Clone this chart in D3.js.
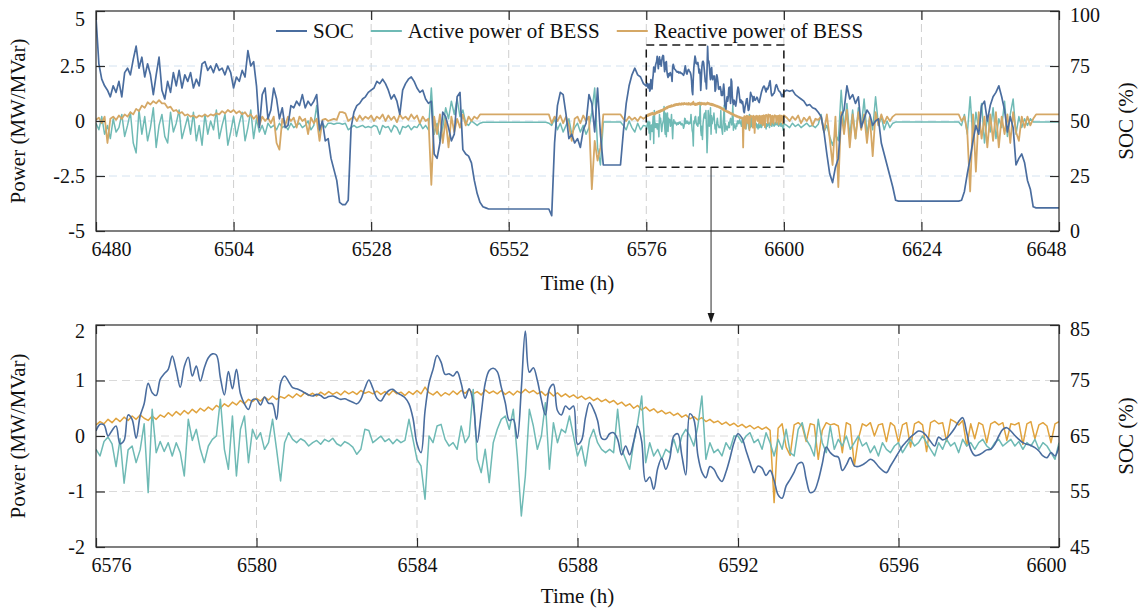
<!DOCTYPE html>
<html>
<head>
<meta charset="utf-8">
<script src="https://cdn.jsdelivr.net/npm/d3@7"></script>
<style>
  body { margin: 0; background: #fff; }
  text { font-family: "Liberation Serif", "Times New Roman", serif; }
</style>
</head>
<body>
<div id="chart"></div>
<script>
//series names, in legend order
var seriesNames = ["SOC", "Active power of BESS", "Reactive power of BESS"];

//tick values
var topTimeTicks = [6480, 6504, 6528, 6552, 6576, 6600, 6624, 6648];
var topPowerTicks = [-5, -2.5, 0, 2.5, 5];
var topSocTicks = [0, 25, 50, 75, 100];
var zoomTimeTicks = [6576, 6580, 6584, 6588, 6592, 6596, 6600];
var zoomPowerTicks = [-2, -1, 0, 1, 2];
var zoomSocTicks = [45, 55, 65, 75, 85];

//window marked on the upper chart (time from, time to, power low, power high)
var zoomWindow = [6576, 6600, -2.1, 3.45];
var arrowTime = 6587.3;

//upper chart, half-hour samples before the zoomed window (6480 - 6575.5)
var coarseStep = 0.5;
var coarseStartA = 6480;
var socA = [
  97, 76, 69, 66, 64, 61, 66, 63, 68, 61, 72, 74,
  71, 78, 84, 74, 79, 70, 76, 71, 62, 71, 79, 64,
  60, 68, 63, 72, 66, 73, 65, 71, 68, 72, 65, 69,
  66, 76, 77, 73, 75, 72, 76, 73, 74, 71, 75, 72,
  65, 70, 68, 73, 70, 82, 75, 77, 66, 47, 62, 65,
  51, 55, 65, 60, 51, 56, 47, 48, 57, 56, 59, 57,
  62, 56, 59, 57, 59, 62, 46, 50, 41, 42, 33, 28,
  23, 13, 12, 12, 14, 47, 54, 57, 58, 60, 61, 63,
  64, 65, 68, 67, 69, 67, 64, 60, 62, 59, 53, 64,
  67, 69, 70, 68, 65, 63, 64, 60, 58, 59, 35, 33,
  40, 54, 52, 47, 41, 44, 61, 63, 37, 35, 34, 31,
  23, 17, 13, 11, 10.5, 10, 10, 10, 10, 10, 10, 10,
  10, 10, 10, 10, 10, 10, 10, 10, 10, 10, 10, 10,
  10, 10, 10, 7, 40, 57, 63, 62, 53, 42, 44, 40,
  42, 38, 46, 49, 62, 58, 45, 65, 44, 30, 30, 30,
  30, 30, 30, 30, 45, 58, 66, 71, 74, 71, 70, 67
];
var activeA = [
  -0.1, -0.4, 0.2, -0.6, -0.2, -0.8, 0.1, -0.5, -0.3, 0.3, -0.7, -0.2,
  0.4, -1.0, -1.45, 0.5, -0.6, 0.2, -0.9, -0.3, 0.6, -1.2, -0.2, 0.3,
  -0.7, -1.0, 0.4, -0.5, -0.1, 0.5, -0.8, -0.3, 0.2, -0.6, 0.4, -0.9,
  -0.2, -1.1, 0.3, -0.6, 0.0, -0.4, 0.5, -0.8, -0.2, 0.3, -1.1, -0.5,
  0.2, -0.7, -0.1, 0.4, -0.9, -0.3, 0.5, -0.8, 0.1, -0.5, -0.2, -0.6,
  -0.1, -0.3, -0.2, -0.4, -0.1, -0.3, -0.2, -0.4, -0.1, -0.3, -0.2, -0.1,
  -0.3, -0.2, 0.0, -0.4, -0.2, 0.7, -0.5, -0.1, -0.3, -0.1, -0.1, -0.15,
  -0.1, -0.1, -0.15, -0.1, -0.4, -0.3, -0.2, -0.3, -0.25, -0.2, -0.3, -0.25,
  -0.3, -0.2, -0.25, -0.6, -0.2, -0.3, -0.25, -0.5, -0.2, -0.3, -0.6, -0.25,
  -0.3, -0.2, -0.4, -0.25, -0.3, -0.1, -0.35, -0.2, -0.4, 1.5, -0.6, -0.1,
  -0.9, -0.3, 0.6, 0.1, 0.9, 0.3, 1.0, 0.2, 0.5, -0.1, -0.2, 0.0,
  -0.1, -0.2, -0.1, -0.06, -0.06, -0.06, -0.06, -0.06, -0.06, -0.06, -0.06, -0.06,
  -0.06, -0.06, -0.06, -0.06, -0.06, -0.06, -0.06, -0.06, -0.06, -0.06, -0.06, -0.06,
  -0.06, -0.06, -0.1, -0.2, 0.1, -0.4, -0.1, -0.5, -0.2, 0.1, -0.6, -0.3,
  -0.1, -0.5, -0.2, -0.6, -0.3, 0.4, 1.5, -1.2, -2.0, -0.05, -0.05, -0.05,
  -0.05, -0.05, -0.05, -0.05, -0.2, -0.4, 0.0, -0.3, -0.5, -0.1, -0.4, -0.2
];
var reactiveA = [
  0.05, 0.15, -0.1, 0.2, -1.0, 0.1, 0.2, 0.05, 0.25, 0.1, 0.3, 0.2,
  0.4, 0.3, 0.55, 0.45, 0.7, 0.6, 0.85, 0.75, 0.9, 0.8, 0.95, 0.8,
  0.8, 0.6, 0.65, 0.45, 0.5, 0.35, 0.4, 0.25, 0.3, 0.2, 0.25, 0.15,
  0.25, 0.2, 0.3, 0.2, 0.3, 0.25, 0.35, 0.3, 0.45, 0.35, 0.5, 0.4,
  0.5, 0.35, 0.45, 0.3, 0.4, 0.2, 0.3, 0.1, 0.25, -0.2, 0.2, 0.0,
  0.15, -0.1, 0.2, -1.0, -1.3, 0.1, -0.2, 0.2, 0.0, 0.15, -0.3, 0.2,
  0.0, 0.1, -0.6, 0.15, -0.1, 0.1, -0.9, 0.05, 0.1, 0.0, 0.05, 0.1,
  0.05, 0.4, 0.4, 0.35, 0.0, 0.1, 0.2, 0.0, 0.25, 0.05, 0.2, 0.1,
  0.25, 0.0, 0.2, 0.1, 0.3, 0.0, 0.25, 0.05, 0.2, -0.05, 0.3, 0.1,
  0.2, 0.05, 0.3, 0.1, 0.25, -0.1, 0.2, 0.0, 0.1, -2.9, 0.2, -0.6,
  0.3, -1.0, 0.1, -1.2, 0.2, -0.5, 0.1, -0.3, 0.3, -0.2, 0.2, 0.0,
  0.2, 0.1, 0.3, 0.3, 0.3, 0.3, 0.3, 0.3, 0.3, 0.3, 0.3, 0.3,
  0.3, 0.3, 0.3, 0.3, 0.3, 0.3, 0.3, 0.3, 0.3, 0.3, 0.3, 0.3,
  0.3, 0.3, 0.3, -0.1, 0.2, 0.0, 0.25, -0.1, 0.2, -0.2, -0.9, 0.1,
  0.2, -0.1, 0.25, 0.0, 0.2, -3.1, -0.9, -1.8, -1.2, 0.3, 0.3, 0.3,
  0.3, 0.3, 0.3, 0.3, 0.1, 0.0, 0.2, 0.05, 0.15, 0.0, 0.2, 0.1
];

//upper chart, half-hour samples after the zoomed window (6600.5 - 6648)
var coarseStartB = 6600.5;
var socB = [
  64, 63.5, 64, 62, 61, 60, 59, 57, 57.5, 56, 55.5, 54,
  52, 45, 35, 26, 22, 29, 33, 52, 55, 66, 60, 62,
  58, 61, 47, 51, 55, 53, 48, 50, 51, 40, 35, 30,
  25, 20, 14, 13.6, 13.6, 13.6, 13.6, 13.6, 13.6, 13.6, 13.6, 13.6,
  13.6, 13.6, 13.6, 13.6, 13.6, 13.6, 13.6, 13.6, 13.6, 13.6, 13.6, 13.6,
  13.6, 14, 18, 26, 33, 41, 48, 44, 57, 59, 50, 57,
  61, 63, 66, 61, 55, 45, 52, 47, 30, 33, 35, 31,
  23, 19, 11, 10.5, 10.5, 10.5, 10.5, 10.5, 10.5, 10.5, 10.5, 10.5
];
var activeB = [
  -0.2, -0.3, -0.1, -0.25, -0.15, -0.3, -0.2, -0.1, -0.25, -0.2, -0.3, -0.15,
  0.3, -0.5, -0.2, -0.7, -1.1, -0.6, -0.9, 1.4, -0.4, 0.8, -0.7, 0.5,
  -0.8, 0.6, -0.3, 1.0, -0.6, 0.2, -0.4, 1.1, -0.2, 0.2, -0.4, 0.0,
  -0.3, -0.1, -0.05, -0.05, -0.05, -0.05, -0.05, -0.05, -0.05, -0.05, -0.05, -0.05,
  -0.05, -0.05, -0.05, -0.05, -0.05, -0.05, -0.05, -0.05, -0.05, -0.05, -0.05, -0.05,
  -0.05, -0.2, 0.3, -0.6, 1.1, -0.9, 0.4, -0.4, 0.8, -1.0, 0.2, -0.5,
  0.6, -0.8, 0.1, -0.3, 0.9, -0.7, 0.3, 1.0, -0.6, 0.2, -0.3, 0.1,
  -0.2, 0.1, -0.05, -0.05, -0.05, -0.05, -0.05, -0.05, -0.05, -0.05, -0.05, -0.05
];
var reactiveB = [
  0.15, 0.0, 0.2, 0.05, 0.25, -0.1, 0.15, 0.0, 0.2, -0.2, 0.1, 0.05,
  0.2, -0.5, 0.3, -0.8, -2.0, 0.2, -3.0, 0.4, -0.6, 0.5, -1.2, 0.3,
  -0.8, 0.4, -0.4, 0.3, -1.0, 0.2, -1.6, 0.4, -0.2, 0.3, -0.1, 0.2,
  0.0, 0.2, 0.3, 0.3, 0.3, 0.3, 0.3, 0.3, 0.3, 0.3, 0.3, 0.3,
  0.3, 0.3, 0.3, 0.3, 0.3, 0.3, 0.3, 0.3, 0.3, 0.3, 0.3, 0.3,
  0.3, 0.0, 0.2, -0.5, -3.2, 0.3, -2.3, 0.4, -0.8, 0.2, -1.2, 0.3,
  -0.9, 0.4, -1.2, 0.2, -0.6, 0.3, -1.0, 0.4, -0.5, -0.9, 0.2, -0.3,
  0.2, -0.2, 0.1, 0.3, 0.3, 0.3, 0.3, 0.3, 0.3, 0.3, 0.3, 0.3
];

//zoomed window, 0.1 h samples (6576 - 6600), one row per hour
var zoomStart = 6576;
var zoomStep = 0.1;
var socZoom = [
  65.9, 67.1, 67.0, 65.0, 66.0, 66.8, 63.6, 64.2, 68.8, 68.0,
  64.6, 68.6, 70.8, 74.5, 72.8, 72.3, 75.2, 76.2, 77.0, 79.4,
  76.8, 73.8, 77.5, 79.2, 75.8, 77.6, 74.9, 77.3, 79.1, 79.8,
  79.6, 75.5, 72.4, 76.6, 73.5, 77.0, 72.6, 70.8, 69.8, 71.5,
  71.6, 70.6, 72.0, 70.9, 70.8, 68.0, 74.5, 75.8, 74.8, 73.7,
  73.5, 73.2, 72.8, 72.4, 72.2, 72.5, 72.3, 71.8, 72.1, 72.2,
  71.9, 71.6, 71.7, 71.4, 71.1, 70.8, 71.6, 73.6, 75.1, 73.6,
  71.8, 71.3, 72.4, 73.2, 73.4, 72.8, 72.4, 71.9, 70.8, 68.2,
  63.6, 62.0, 69.5, 74.5, 77.0, 79.5, 78.3, 76.1, 76.2, 75.8,
  76.6, 74.5, 71.8, 73.5, 71.0, 63.9, 69.0, 74.5, 76.8, 77.2,
  76.6, 73.8, 71.0, 67.8, 68.0, 64.6, 73.5, 83.9, 76.5, 77.3,
  75.0, 71.5, 68.8, 73.5, 74.3, 69.6, 68.8, 70.4, 69.8, 70.4,
  63.5, 64.2, 68.4, 71.0, 69.8, 67.8, 64.6, 64.4, 65.4, 65.6,
  64.4, 61.6, 63.2, 61.6, 64.0, 66.8, 64.0, 56.8, 57.6, 55.4,
  59.2, 61.0, 59.0, 61.0, 65.0, 65.4, 61.5, 58.0, 69.0, 68.0,
  61.5, 58.5, 57.5, 59.5, 59.0, 57.6, 56.8, 58.5, 61.0, 63.8,
  65.4, 64.6, 62.4, 60.2, 58.4, 59.6, 59.2, 57.9, 58.8, 57.0,
  54.4, 53.8, 56.0, 57.2, 58.5, 60.0, 60.2, 57.2, 54.8, 55.1,
  57.0, 60.0, 63.0, 62.0, 61.4, 61.2, 58.8, 59.8, 61.1, 59.6,
  59.5, 59.8, 60.3, 60.8, 60.4, 59.5, 58.8, 58.4, 59.6, 60.8,
  62.0, 63.2, 64.0, 64.8, 65.4, 65.9, 65.7, 65.0, 64.0, 63.2,
  64.8, 64.3, 64.6, 65.4, 66.4, 67.6, 68.3, 65.6, 62.6, 61.5,
  61.6, 62.0, 62.5, 62.6, 63.5, 65.0, 66.2, 66.5, 65.9, 65.1,
  64.4, 63.8, 63.5, 63.3, 62.9, 62.3, 61.4, 61.1, 62.0, 61.4,
  63.2
];
var activeZoom = [
  -0.24, -0.36, -0.10, -0.02, -0.14, -0.55, -0.05, -0.85, -0.25, -0.18,
  -0.48, -0.25, 0.22, -1.02, 0.48, -0.30, -0.10, -0.28, -0.12, -0.36,
  -0.12, -0.30, -0.72, 0.30, -0.08, 0.12, -0.24, -0.48, -0.18, -0.06,
  0.00, 0.66, -0.24, -0.60, 0.36, -0.72, 0.12, 0.36, -0.48, 0.12,
  -0.06, 0.06, -0.24, -0.12, 0.30, -0.24, -0.81, -0.12, 0.06, -0.06,
  -0.12, -0.05, -0.09, -0.18, -0.12, -0.08, -0.15, -0.06, -0.10, -0.04,
  -0.14, -0.18, -0.10, -0.14, -0.20, -0.33, -0.24, 0.12, 0.10, -0.12,
  -0.06, 0.00, -0.10, -0.05, -0.14, -0.06, -0.12, -0.08, 0.30, -0.06,
  -0.42, -0.54, -1.14, 0.00, -0.12, 0.18, 0.21, -0.06, -0.18, -0.12,
  -0.24, 0.18, -0.12, 0.00, 0.84, -0.42, -0.66, -0.24, -0.84, -0.12,
  0.12, 0.30, 0.36, 0.12, 0.48, -0.36, -1.44, -0.72, 0.48, 0.18,
  -0.24, 0.00, 0.60, -0.60, 0.24, -0.12, 0.12, 0.06, 0.36, 0.00,
  -0.36, -0.18, -0.54, -0.06, 0.12, -0.12, -0.24, -0.30, -0.24, -0.30,
  0.48, -0.24, -0.42, -0.60, -0.12, 0.24, 0.72, -0.48, -0.12, -0.36,
  -0.24, -0.42, -0.24, -0.30, -0.06, -0.30, 0.00, 0.12, 0.00, -0.18,
  0.18, 0.72, -0.42, -0.12, -0.30, -0.24, -0.36, -0.12, -0.24, 0.00,
  0.00, -0.12, 0.00, 0.06, -0.12, -0.06, -0.24, 0.06, -0.12, -0.36,
  -0.06, -0.24, 0.12, -0.30, -0.36, 0.12, 0.24, -0.06, -0.18, -0.36,
  0.30, -0.12, -0.30, 0.18, -0.24, -0.06, -0.18, 0.00, -0.24, -0.12,
  0.00, -0.18, -0.12, -0.30, -0.18, -0.36, -0.12, -0.24, -0.30, -0.18,
  -0.12, -0.30, -0.18, -0.06, -0.18, -0.12, 0.00, -0.12, -0.24, -0.36,
  -0.12, -0.24, -0.06, -0.18, -0.12, -0.30, -0.06, -0.18, -0.12, -0.24,
  -0.12, -0.06, -0.18, -0.24, -0.12, -0.06, -0.18, -0.12, -0.06, -0.18,
  -0.10, -0.24, -0.12, -0.18, -0.06, -0.24, -0.12, -0.18, -0.30, -0.42,
  -0.12
];
var reactiveZoom = [
  0.20, 0.26, 0.22, 0.30, 0.24, 0.32, 0.26, 0.34, 0.28, 0.36,
  0.30, 0.38, 0.32, 0.28, 0.36, 0.30, 0.38, 0.34, 0.42, 0.36,
  0.44, 0.38, 0.46, 0.40, 0.48, 0.42, 0.50, 0.45, 0.52, 0.47,
  0.55, 0.50, 0.58, 0.53, 0.61, 0.56, 0.64, 0.58, 0.66, 0.62,
  0.68, 0.63, 0.70, 0.65, 0.72, 0.66, 0.71, 0.68, 0.74, 0.69,
  0.76, 0.71, 0.78, 0.73, 0.77, 0.72, 0.79, 0.74, 0.80, 0.75,
  0.79, 0.74, 0.81, 0.76, 0.80, 0.75, 0.82, 0.77, 0.80, 0.76,
  0.81, 0.75, 0.80, 0.74, 0.82, 0.76, 0.79, 0.73, 0.80, 0.75,
  0.82, 0.76, 0.88, 0.78, 0.74, 0.80, 0.72, 0.78, 0.74, 0.81,
  0.75, 0.82, 0.77, 0.84, 0.76, 0.80, 0.74, 0.83, 0.77, 0.81,
  0.76, 0.82, 0.75, 0.80, 0.74, 0.81, 0.77, 0.84, 0.78, 0.82,
  0.76, 0.80, 0.73, 0.79, 0.72, 0.78, 0.71, 0.76, 0.70, 0.74,
  0.68, 0.72, 0.66, 0.70, 0.64, 0.68, 0.62, 0.66, 0.60, 0.64,
  0.57, 0.61, 0.54, 0.58, 0.50, 0.55, 0.47, 0.52, 0.45, 0.49,
  0.42, 0.46, 0.40, 0.43, 0.37, 0.41, 0.34, 0.38, 0.31, 0.35,
  0.29, 0.33, 0.26, 0.30, 0.24, 0.27, 0.21, 0.25, 0.19, 0.23,
  0.17, 0.21, 0.15, 0.19, 0.13, 0.17, 0.12, 0.16, 0.10, -1.20,
  0.14, 0.22, -0.20, -0.35, 0.20, 0.24, 0.18, -0.10, 0.22, 0.20,
  -0.42, 0.10, 0.24, 0.20, 0.22, 0.18, -0.30, 0.24, 0.20, -0.54,
  -0.05, 0.22, 0.18, 0.24, 0.00, 0.20, 0.22, -0.10, 0.24, 0.18,
  -0.12, 0.20, 0.24, -0.20, 0.22, 0.26, 0.20, -0.28, 0.24, 0.28,
  0.22, 0.24, -0.10, 0.30, 0.26, 0.20, 0.28, -0.18, 0.22, -0.05,
  0.24, 0.20, -0.12, 0.22, 0.26, 0.20, 0.24, -0.08, 0.22, 0.20,
  0.24, -0.15, 0.22, 0.26, -0.05, 0.20, 0.24, 0.18, -0.12, 0.22,
  0.26
];

var w = 1146;
var h = 613;
var left = 96;
var right = 1059;
var tickFont = 20;
var titleFont = 21;
var tickLen = 9;

var socColor = "#4a6d9f";
var activeColor = "#6fbab5";
var reactiveColorTop = "#d5a866";
var reactiveColorZoom = "#e0a33e";

var svg = d3
  .select("#chart")
  .append("svg")
  .attr("width", w)
  .attr("height", h);

//turn a list of samples into {t, v} points
function toPoints(values, start, step) {
  return values.map(function (v, i) {
    return { t: start + i * step, v: v };
  });
}

//upper chart uses the fine samples inside the zoomed window
var topSoc = toPoints(socA, coarseStartA, coarseStep)
  .concat(toPoints(socZoom, zoomStart, zoomStep))
  .concat(toPoints(socB, coarseStartB, coarseStep));
var topActive = toPoints(activeA, coarseStartA, coarseStep)
  .concat(toPoints(activeZoom, zoomStart, zoomStep))
  .concat(toPoints(activeB, coarseStartB, coarseStep));
var topReactive = toPoints(reactiveA, coarseStartA, coarseStep)
  .concat(toPoints(reactiveZoom, zoomStart, zoomStep))
  .concat(toPoints(reactiveB, coarseStartB, coarseStep));

function styleText(sel, size) {
  sel
    .attr("font-family", '"Liberation Serif", "Times New Roman", serif')
    .attr("font-size", size || tickFont)
    .attr("fill", "#111");
}

function drawPanel(cfg) {
  var g = svg.append("g");

  var x = d3.scaleLinear().domain(cfg.timeDomain).range([left, right]);
  var yP = d3.scaleLinear().domain(cfg.powerDomain).range([cfg.bottom, cfg.top]);
  var yS = d3.scaleLinear().domain(cfg.socDomain).range([cfg.bottom, cfg.top]);

  //dashed grid
  g.selectAll(".vgrid")
    .data(cfg.timeTicks.slice(1, -1))
    .enter()
    .append("line")
    .attr("x1", function (d) { return x(d); })
    .attr("x2", function (d) { return x(d); })
    .attr("y1", cfg.top)
    .attr("y2", cfg.bottom)
    .attr("stroke", "#cfcfcf")
    .attr("stroke-width", 1)
    .attr("stroke-dasharray", "8,5");

  g.selectAll(".hgrid")
    .data(cfg.powerTicks.slice(1, -1))
    .enter()
    .append("line")
    .attr("x1", left)
    .attr("x2", right)
    .attr("y1", function (d) { return yP(d); })
    .attr("y2", function (d) { return yP(d); })
    .attr("stroke", cfg.hGridColor)
    .attr("stroke-width", 1)
    .attr("stroke-dasharray", "8,5");

  //clip the lines to the plot area
  svg
    .append("clipPath")
    .attr("id", cfg.id + "-clip")
    .append("rect")
    .attr("x", left)
    .attr("y", cfg.top)
    .attr("width", right - left)
    .attr("height", cfg.bottom - cfg.top);

  var lines = g.append("g").attr("clip-path", "url(#" + cfg.id + "-clip)");

  cfg.series.forEach(function (s) {
    var yScale = s.axis === "soc" ? yS : yP;
    var line = d3
      .line()
      .x(function (d) { return x(d.t); })
      .y(function (d) { return yScale(d.v); });
    if (s.curve) line.curve(s.curve);
    lines
      .append("path")
      .datum(s.data)
      .attr("fill", "none")
      .attr("stroke", s.color)
      .attr("stroke-width", s.width)
      .attr("stroke-linejoin", "round")
      .attr("d", line);
  });

  //frame
  g.append("rect")
    .attr("x", left)
    .attr("y", cfg.top)
    .attr("width", right - left)
    .attr("height", cfg.bottom - cfg.top)
    .attr("fill", "none")
    .attr("stroke", "#2a2a2a")
    .attr("stroke-width", 1.2);

  //axes with inward ticks
  var fmt = function (d) { return String(d); };
  var axes = [
    { side: "bottom", axis: d3.axisBottom(x).tickValues(cfg.timeTicks).tickFormat(fmt), tr: "translate(0," + cfg.bottom + ")" },
    { side: "top", axis: d3.axisTop(x).tickValues(cfg.timeTicks).tickFormat(""), tr: "translate(0," + cfg.top + ")" },
    { side: "left", axis: d3.axisLeft(yP).tickValues(cfg.powerTicks).tickFormat(fmt), tr: "translate(" + left + ",0)" },
    { side: "right", axis: d3.axisRight(yS).tickValues(cfg.socTicks).tickFormat(fmt), tr: "translate(" + right + ",0)" },
  ];
  axes.forEach(function (a) {
    var ag = g
      .append("g")
      .attr("transform", a.tr)
      .call(a.axis.tickSizeInner(-tickLen).tickSizeOuter(0).tickPadding(11));
    ag.select(".domain").remove();
    ag.selectAll(".tick line").attr("stroke", "#2a2a2a").attr("stroke-width", 1.2);
    var labels = ag.selectAll("text");
    styleText(labels);
    var n = labels.size();
    if (a.side === "bottom") {
      //end labels are pulled inside the frame
      labels.filter(function (d, i) { return i === 0; }).attr("text-anchor", "start").attr("x", -5);
      labels.filter(function (d, i) { return i === n - 1; }).attr("text-anchor", "end").attr("x", 7);
    }
    if (a.side === "left") {
      labels.filter(function (d, i) { return i === n - 1; }).attr("y", cfg.leftTopShift);
    }
    if (a.side === "right") {
      labels.filter(function (d, i) { return i === n - 1; }).attr("y", 4);
    }
  });

  //axis titles
  g.append("text")
    .attr("transform", "rotate(-90)")
    .attr("x", -(cfg.top + cfg.bottom) / 2)
    .attr("y", 24.5)
    .attr("text-anchor", "middle")
    .text("Power (MW/MVar)")
    .call(styleText, titleFont);

  g.append("text")
    .attr("transform", "rotate(-90)")
    .attr("x", -(cfg.top + cfg.bottom) / 2)
    .attr("y", 1133)
    .attr("text-anchor", "middle")
    .text("SOC (%)")
    .call(styleText, titleFont);

  g.append("text")
    .attr("x", (left + right) / 2)
    .attr("y", cfg.timeTitleY)
    .attr("text-anchor", "middle")
    .text("Time (h)")
    .call(styleText, titleFont);

  return { x: x, yP: yP, yS: yS };
}

//upper chart, whole week
var topPanel = drawPanel({
  id: "top",
  top: 11,
  bottom: 231,
  timeDomain: [6480, 6648],
  powerDomain: [-5, 5],
  socDomain: [0, 100],
  timeTicks: topTimeTicks,
  powerTicks: topPowerTicks,
  socTicks: topSocTicks,
  hGridColor: "#d3e2f0",
  timeTitleY: 290,
  leftTopShift: 8,
  series: [
    { data: topActive, axis: "power", color: activeColor, width: 1.5 },
    { data: topReactive, axis: "power", color: reactiveColorTop, width: 1.8 },
    { data: topSoc, axis: "soc", color: socColor, width: 1.7 },
  ],
});

//lower chart, zoomed window
var zoomPanel = drawPanel({
  id: "zoom",
  top: 325,
  bottom: 547,
  timeDomain: [6576, 6600],
  powerDomain: [-2, 2],
  socDomain: [45, 85],
  timeTicks: zoomTimeTicks,
  powerTicks: zoomPowerTicks,
  socTicks: zoomSocTicks,
  hGridColor: "#dadada",
  timeTitleY: 603,
  leftTopShift: 6,
  series: [
    { data: toPoints(reactiveZoom, zoomStart, zoomStep), axis: "power", color: reactiveColorZoom, width: 1.5 },
    { data: toPoints(activeZoom, zoomStart, zoomStep), axis: "power", color: activeColor, width: 1.5 },
    { data: toPoints(socZoom, zoomStart, zoomStep), axis: "soc", color: socColor, width: 1.6, curve: d3.curveCatmullRom.alpha(0.5) },
  ],
});

//dashed box round the zoomed window
var bx0 = topPanel.x(zoomWindow[0]);
var bx1 = topPanel.x(zoomWindow[1]);
var by0 = topPanel.yP(zoomWindow[3]);
var by1 = topPanel.yP(zoomWindow[2]);
svg
  .append("rect")
  .attr("x", bx0)
  .attr("y", by0)
  .attr("width", bx1 - bx0)
  .attr("height", by1 - by0)
  .attr("fill", "none")
  .attr("stroke", "#1a1a1a")
  .attr("stroke-width", 1.5)
  .attr("stroke-dasharray", "8,5");

//arrow down to the lower chart
var ax = topPanel.x(arrowTime);
svg
  .append("line")
  .attr("x1", ax)
  .attr("x2", ax)
  .attr("y1", by1)
  .attr("y2", 315)
  .attr("stroke", "#2a2a2a")
  .attr("stroke-width", 1);
svg
  .append("path")
  .attr("d", "M" + (ax - 3.5) + ",313L" + (ax + 3.5) + ",313L" + ax + ",323Z")
  .attr("fill", "#1a1a1a");

//legend across the top of the upper chart
var legendColors = [socColor, activeColor, reactiveColorTop];
var legendY = 31;
var lx = 276;
seriesNames.forEach(function (name, i) {
  svg
    .append("line")
    .attr("x1", lx)
    .attr("x2", lx + 31)
    .attr("y1", legendY)
    .attr("y2", legendY)
    .attr("stroke", legendColors[i])
    .attr("stroke-width", 2);
  var t = svg
    .append("text")
    .attr("x", lx + 37)
    .attr("y", legendY)
    .attr("dy", "0.33em")
    .text(name)
    .call(styleText, titleFont);
  lx += 37 + t.node().getComputedTextLength() + 17;
});
</script>
</body>
</html>
